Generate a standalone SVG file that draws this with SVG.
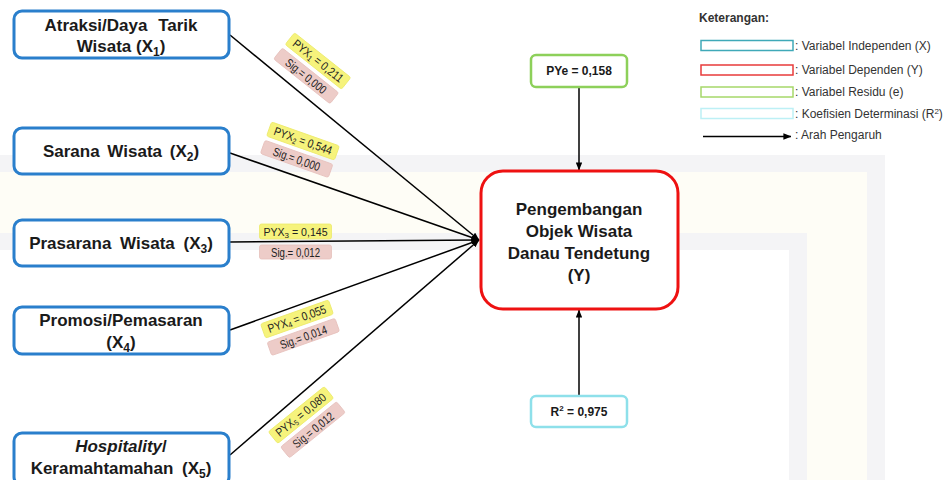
<svg xmlns="http://www.w3.org/2000/svg" width="952" height="480" viewBox="0 0 952 480">
<defs>
<marker id="ah" viewBox="0 0 10 8" refX="9.5" refY="4" markerWidth="8" markerHeight="6.4" markerUnits="userSpaceOnUse" orient="auto">
<path d="M0,0 L10,4 L0,8 z" fill="#000"/>
</marker>
<style>
.xn{fill:#fff;stroke:#2a7fcc;stroke-width:3}
.yn{fill:#fff;stroke:#ee1111;stroke-width:3}
.en{fill:#fff;stroke:#8dd05a;stroke-width:2.5}
.rn{fill:#fff;stroke:#8ee0ea;stroke-width:2.5}
.nt{font-family:"Liberation Sans",Arial,sans-serif;font-weight:bold;font-size:17px;fill:#1a1a1a;text-anchor:middle}
.st{font-family:"Liberation Sans",Arial,sans-serif;font-weight:bold;font-size:12px;fill:#1a1a1a;text-anchor:middle}
.conn line{stroke:#000;stroke-width:1.5;marker-end:url(#ah)}
.yl{fill:#f6f37c;stroke:#ecea6a;stroke-width:0.8}
.pk{fill:#edccc8;stroke:#e6c0bb;stroke-width:0.8}
.lt{font-family:"Liberation Sans",Arial,sans-serif;font-size:12px;fill:#222;text-anchor:middle}
.lt2{font-family:"Liberation Sans",Arial,sans-serif;font-size:10.6px;fill:#222;text-anchor:middle}
.lg{font-family:"Liberation Sans",Arial,sans-serif;font-size:12px;fill:#333}
.lb{fill:#fff;stroke-width:1.5}
</style>
</defs>
<rect width="952" height="480" fill="#fff"/>
<g id="watermark">
<rect x="0" y="172" width="867" height="61" fill="#fefdf6"/>
<rect x="807" y="172" width="60" height="308" fill="#fefdf6"/>
<rect x="0" y="155" width="885" height="17" fill="#f4f4f6"/>
<rect x="867" y="155" width="18" height="325" fill="#f4f4f6"/>
<rect x="0" y="233" width="807" height="17" fill="#f4f4f6"/>
<rect x="789" y="233" width="18" height="247" fill="#f4f4f6"/>
</g>
<g id="connectors" class="conn">
<line x1="230" y1="35" x2="479" y2="240"/>
<line x1="230" y1="153" x2="479" y2="240"/>
<line x1="230" y1="242" x2="479" y2="240"/>
<line x1="230" y1="330" x2="479" y2="240"/>
<line x1="230" y1="455" x2="479" y2="240"/>
<line x1="579" y1="87" x2="579" y2="170"/>
<line x1="579" y1="396" x2="579" y2="310"/>
</g>
<g id="labels">
<g transform="translate(318,61) rotate(38.5)">
<rect class="yl" x="-36" y="-7.5" width="72" height="15" rx="2"/>
<rect class="pk" x="-36" y="12" width="72" height="14" rx="2"/>
<text class="lt" x="0" y="4" textLength="61" lengthAdjust="spacingAndGlyphs">PYX<tspan dy="2" font-size="8">1</tspan><tspan dy="-2"> = 0,211</tspan></text>
<text class="lt" x="0" y="23.5" textLength="49" lengthAdjust="spacingAndGlyphs">Sig.= 0,000</text>
</g>
<g transform="translate(303,141) rotate(19.5)">
<rect class="yl" x="-36" y="-7.5" width="72" height="15" rx="2"/>
<rect class="pk" x="-36" y="12" width="72" height="14" rx="2"/>
<text class="lt" x="0" y="4" textLength="61" lengthAdjust="spacingAndGlyphs">PYX<tspan dy="2" font-size="8">2</tspan><tspan dy="-2"> = 0,544</tspan></text>
<text class="lt" x="0" y="23.5" textLength="49" lengthAdjust="spacingAndGlyphs">Sig.= 0,000</text>
</g>
<g transform="translate(295.5,231.5)">
<rect class="yl" x="-36" y="-7.5" width="72" height="15" rx="2"/>
<rect class="pk" x="-36" y="13.5" width="72" height="14" rx="2"/>
<text class="lt2" x="0" y="4">PYX<tspan dy="2" font-size="8">3</tspan><tspan dy="-2"> = 0,145</tspan></text>
<text class="lt" x="0" y="25" textLength="49" lengthAdjust="spacingAndGlyphs">Sig.= 0,012</text>
</g>
<g transform="translate(297,319) rotate(-19.5)">
<rect class="yl" x="-36" y="-7.5" width="72" height="15" rx="2"/>
<rect class="pk" x="-36" y="12" width="72" height="14" rx="2"/>
<text class="lt" x="0" y="4" textLength="61" lengthAdjust="spacingAndGlyphs">PYX<tspan dy="2" font-size="8">4</tspan><tspan dy="-2"> = 0,055</tspan></text>
<text class="lt" x="0" y="23.5" textLength="49" lengthAdjust="spacingAndGlyphs">Sig.= 0,014</text>
</g>
<g transform="translate(301,415) rotate(-39)">
<rect class="yl" x="-36" y="-7.5" width="72" height="15" rx="2"/>
<rect class="pk" x="-36" y="12" width="72" height="14" rx="2"/>
<text class="lt" x="0" y="4" textLength="61" lengthAdjust="spacingAndGlyphs">PYX<tspan dy="2" font-size="8">5</tspan><tspan dy="-2"> = 0,080</tspan></text>
<text class="lt" x="0" y="23.5" textLength="49" lengthAdjust="spacingAndGlyphs">Sig.= 0,012</text>
</g>
</g>
<g id="x1">
<rect class="xn" x="14" y="11" width="215" height="47" rx="8"/>
<text class="nt" x="121" y="31" word-spacing="6">Atraksi/Daya Tarik</text>
<text class="nt" x="121" y="52">Wisata (X<tspan dy="4" font-size="12">1</tspan><tspan dy="-4">)</tspan></text>
</g>
<g id="x2">
<rect class="xn" x="14" y="128" width="215" height="46" rx="8"/>
<text class="nt" x="121" y="157" word-spacing="3">Sarana Wisata (X<tspan dy="4" font-size="12">2</tspan><tspan dy="-4">)</tspan></text>
</g>
<g id="x3">
<rect class="xn" x="14" y="220" width="215" height="46" rx="8"/>
<text class="nt" x="121" y="249" word-spacing="4">Prasarana Wisata (X<tspan dy="4" font-size="12">3</tspan><tspan dy="-4">)</tspan></text>
</g>
<g id="x4">
<rect class="xn" x="14" y="307" width="215" height="47" rx="8"/>
<text class="nt" x="121" y="326">Promosi/Pemasaran</text>
<text class="nt" x="121" y="348">(X<tspan dy="4" font-size="12">4</tspan><tspan dy="-4">)</tspan></text>
</g>
<g id="x5">
<rect class="xn" x="14" y="433" width="215" height="52" rx="8"/>
<text class="nt" x="121" y="452"><tspan font-style="italic">Hospitality</tspan>/</text>
<text class="nt" x="121" y="474" word-spacing="4">Keramahtamahan (X<tspan dy="4" font-size="12">5</tspan><tspan dy="-4">)</tspan></text>
</g>
<g id="y">
<rect class="yn" x="481" y="171" width="197" height="138" rx="22"/>
<text class="nt" x="579" y="215">Pengembangan</text>
<text class="nt" x="579" y="237">Objek Wisata</text>
<text class="nt" x="579" y="259">Danau Tendetung</text>
<text class="nt" x="579" y="281">(Y)</text>
</g>
<g id="e">
<rect class="en" x="531" y="55" width="96" height="32" rx="5"/>
<text class="st" x="579" y="75">PYe = 0,158</text>
</g>
<g id="r2">
<rect class="rn" x="531" y="396" width="96" height="31" rx="5"/>
<text class="st" x="579" y="416">R<tspan dy="-5" font-size="8">2</tspan><tspan dy="5"> = 0,975</tspan></text>
</g>
<g id="legend">
<text class="lg" x="699" y="22" font-weight="bold" fill="#111">Keterangan:</text>
<rect class="lb" x="701" y="40.5" width="92" height="10" stroke="#3fa9b8"/>
<text class="lg" x="795" y="50">: Variabel Independen (X)</text>
<rect class="lb" x="701" y="65" width="92" height="10" stroke="#e83b3b"/>
<text class="lg" x="795" y="74">: Variabel Dependen (Y)</text>
<rect class="lb" x="701" y="87" width="92" height="10" stroke="#a6d86a"/>
<text class="lg" x="795" y="96">: Variabel Residu (e)</text>
<rect class="lb" x="701" y="108.5" width="92" height="10" stroke="#bdf0f5"/>
<text class="lg" x="795" y="117.5">: Koefisien Determinasi (R<tspan dy="-4" font-size="8">2</tspan><tspan dy="4">)</tspan></text>
<line x1="703" y1="136.5" x2="791" y2="136.5" stroke="#000" stroke-width="1.3" marker-end="url(#ah)"/>
<text class="lg" x="795" y="139">: Arah Pengaruh</text>
</g>
</svg>
